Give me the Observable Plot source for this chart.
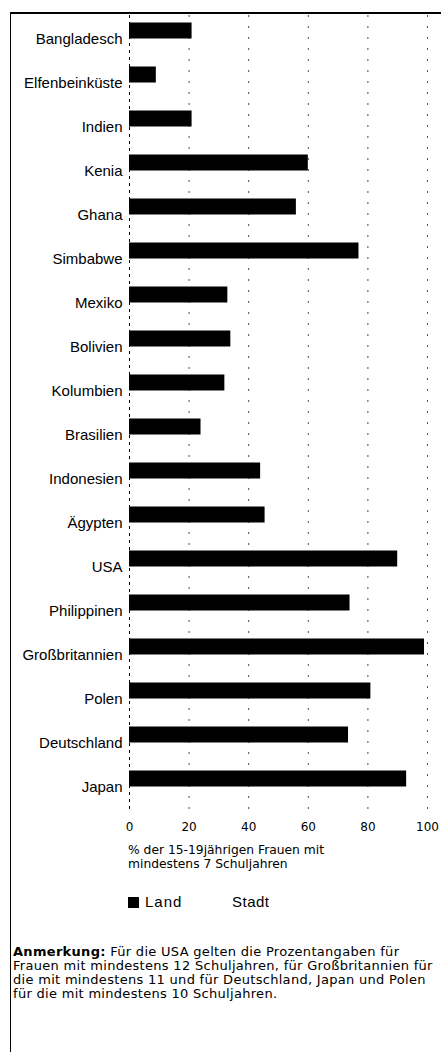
<!DOCTYPE html>
<html><head><meta charset="utf-8">
<script src="https://cdn.jsdelivr.net/npm/d3@7"></script>
<script src="https://cdn.jsdelivr.net/npm/@observablehq/plot@0.6"></script>
<style>
body{margin:0;background:#fff;}
#wrap{position:relative;width:441px;height:1052px;overflow:hidden;font-family:"Liberation Sans",Arial,sans-serif;color:#000;}
#frame{position:absolute;left:10px;top:12px;right:-5px;bottom:-5px;border-left:1.5px solid #000;border-top:2px solid #000;}
#chart{position:absolute;left:0;top:0;}
.t{position:absolute;white-space:nowrap;}
.dv{font-family:"DejaVu Sans",sans-serif;}
.sw{position:absolute;width:11px;height:11px;}
</style></head><body>
<div id="wrap">
<div id="frame"></div>
<div id="chart"></div>
<div class="t dv" style="left:128px;top:843px;font-size:12.3px;line-height:14px">% der 15-19jährigen Frauen mit<br>mindestens 7 Schuljahren</div>
<div class="sw" style="left:128px;top:897px;background:#000"></div>
<div class="t" style="left:145px;top:894px;font-size:15px;line-height:16px;letter-spacing:1px">Land</div>
<div class="sw" style="left:214px;top:897px;background:#fff"></div>
<div class="t" style="left:232px;top:894px;font-size:15px;line-height:16px;letter-spacing:0.5px">Stadt</div>
<div class="t dv" style="left:13px;top:945px;font-size:13px;line-height:14px;letter-spacing:0.3px"><b>Anmerkung:</b> Für die USA gelten die Prozentangaben für<br>Frauen mit mindestens 12 Schuljahren, für Großbritannien für<br>die mit mindestens 11 und für Deutschland, Japan und Polen<br>für die mit mindestens 10 Schuljahren.</div>
</div>
<script>
const countries = ["Bangladesch","Elfenbeinküste","Indien","Kenia","Ghana","Simbabwe","Mexiko","Bolivien","Kolumbien","Brasilien","Indonesien","Ägypten","USA","Philippinen","Großbritannien","Polen","Deutschland","Japan"];
const land = [21, 9, 21, 60, 56, 77, 33, 34, 32, 24, 44, 45.5, 90, 74, 99, 81, 73.5, 93];
const xTicks = [0, 20, 40, 60, 80, 100];
const gridTicks = [20, 40, 60, 80, 100];

const data = countries.map((c, i) => ({country: c, value: land[i]}));

const chart = Plot.plot({
  width: 441,
  height: 845,
  marginLeft: 129,
  marginRight: 14,
  marginTop: 15,
  marginBottom: 35,
  style: {fontFamily: '"Liberation Sans", Arial, sans-serif', color: "#000", background: "transparent"},
  x: {domain: [0, 100], label: null},
  y: {domain: countries, padding: 0, label: null},
  marks: [
    Plot.ruleX(gridTicks, {stroke: "#000", strokeWidth: 1, strokeDasharray: "2,9", strokeOpacity: 0.7}),
    Plot.ruleX([0], {stroke: "#000", strokeWidth: 1, strokeDasharray: "3,4"}),
    Plot.barX(data, {x: "value", y: "country", fill: "#000", insetTop: 5.5, insetBottom: 22.5}),
    Plot.axisY({tickSize: 0, tickPadding: 7, fontSize: 15, label: null}),
    Plot.axisX({ticks: xTicks, tickSize: 0, tickPadding: 12, fontSize: 12, fontFamily: '"DejaVu Sans", sans-serif', label: null})
  ]
});
document.getElementById("chart").appendChild(chart);
</script>
</body></html>
